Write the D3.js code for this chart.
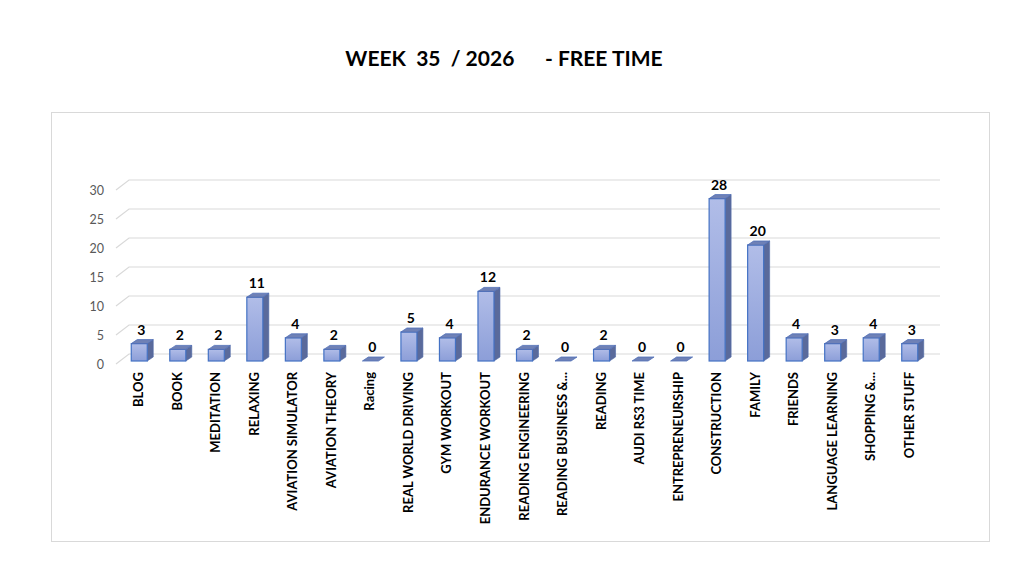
<!DOCTYPE html>
<html>
<head>
<meta charset="utf-8">
<script src="https://cdn.jsdelivr.net/npm/d3@7"></script>
<style>
  body { margin: 0; background: #fff; }
  svg { display: block; font-family: Lato, "Open Sans", sans-serif; }
</style>
</head>
<body>
<svg id="chart" width="1023" height="585"></svg>
<script>
const categories = ["BLOG", "BOOK", "MEDITATION", "RELAXING", "AVIATION SIMULATOR", "AVIATION THEORY",
  "Racing", "REAL WORLD DRIVING", "GYM WORKOUT", "ENDURANCE WORKOUT", "READING ENGINEERING",
  "READING BUSINESS &...", "READING", "AUDI RS3 TIME", "ENTREPRENEURSHIP", "CONSTRUCTION",
  "FAMILY", "FRIENDS", "LANGUAGE LEARNING", "SHOPPING &...", "OTHER STUFF"]
const values = [3, 2, 2, 11, 4, 2, 0, 5, 4, 12, 2, 0, 2, 0, 0, 28, 20, 4, 3, 4, 3]
const yTicks = [0, 5, 10, 15, 20, 25, 30]
const title = "WEEK  35  / 2026      - FREE TIME"
</script>
<script>
const svg = d3.select("#chart")

// gradient for bar fronts
const defs = svg.append("defs")
const grad = defs.append("linearGradient").attr("id", "barfront")
  .attr("x1", 0).attr("y1", 0).attr("x2", 0).attr("y2", 1)
grad.append("stop").attr("offset", "0%").attr("stop-color", "#b1bde8")
grad.append("stop").attr("offset", "100%").attr("stop-color", "#8c9ed8")

// chart frame
svg.append("rect")
  .attr("x", 51.5).attr("y", 112.5).attr("width", 938).attr("height", 429)
  .attr("fill", "#fff").attr("stroke", "#d9d9d9")

svg.append("text")
  .attr("x", 504).attr("y", 66)
  .attr("text-anchor", "middle")
  .attr("font-size", 21).attr("font-weight", "bold")
  .style("white-space", "pre")
  .text(title)

const xScale = d3.scaleBand()
  .domain(categories)
  .range([120, 929])

const yScale = d3.scaleLinear()
  .domain([0, 30])
  .range([364, 190])

// floor depth for gridlines
const gdx = 13, gdy = -10
const gridLeft = 116, gridRight = 940

const grid = svg.append("g")
yTicks.forEach(t => {
  const y = yScale(t)
  grid.append("path")
    .attr("d", `M${gridLeft},${y} L${gridLeft + gdx},${y + gdy} L${gridRight},${y + gdy}`)
    .attr("fill", "none").attr("stroke", "#d9d9d9").attr("stroke-width", 1.2)
  grid.append("text")
    .attr("x", 104).attr("y", y + 4.5)
    .attr("text-anchor", "end")
    .attr("font-size", 12.5).attr("fill", "#595959")
    .text(t)
})

// bars
const bw = 16, bdx = 6, bdy = -4, off = -3
const bars = svg.append("g").selectAll("g")
  .data(categories.map((c, i) => ({ c, v: values[i] })))
  .enter().append("g")

bars.each(function (d) {
  const g = d3.select(this)
  const x0 = xScale(d.c) + xScale.bandwidth() / 2 - bw / 2
  const yb = yScale(0) + off
  const yt = yScale(d.v) + off
  const h = yb - yt
  if (h > 0) {
    // side
    g.append("path")
      .attr("d", `M${x0 + bw},${yt} L${x0 + bw + bdx},${yt + bdy} L${x0 + bw + bdx},${yb + bdy} L${x0 + bw},${yb} Z`)
      .attr("fill", "#5a6a9b").attr("stroke", "#4f6aa8").attr("stroke-width", 0.6)
    // front
    g.append("rect")
      .attr("x", x0).attr("y", yt).attr("width", bw).attr("height", h)
      .attr("fill", "url(#barfront)").attr("stroke", "#4472c4").attr("stroke-width", 1.2)
  }
  // top
  g.append("path")
    .attr("d", `M${x0},${yt} L${x0 + bdx},${yt + bdy} L${x0 + bw + bdx},${yt + bdy} L${x0 + bw},${yt} Z`)
    .attr("fill", "#6f81b6").attr("stroke", "#4f6fb8").attr("stroke-width", 0.8)

  g.append("text")
    .attr("x", x0 + bw / 2 + 2).attr("y", yt - 9)
    .attr("text-anchor", "middle")
    .attr("font-size", 14).attr("font-weight", "bold").attr("fill", "#000")
    .text(d.v)
})

// category labels
svg.append("g").selectAll("text")
  .data(categories)
  .enter().append("text")
  .attr("transform", d => `translate(${xScale(d) + xScale.bandwidth() / 2 + 4},372) rotate(-90)`)
  .attr("text-anchor", "end")
  .attr("font-size", 13).attr("font-weight", "bold").attr("fill", "#000")
  .text(d => d)
</script>
</body>
</html>
